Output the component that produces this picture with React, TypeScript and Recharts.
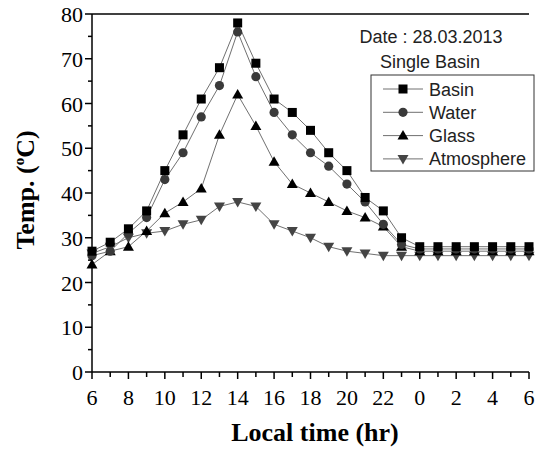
import { LineChart, Line, XAxis, YAxis, ReferenceLine } from "recharts";

const HOURS = [6, 7, 8, 9, 10, 11, 12, 13, 14, 15, 16, 17, 18, 19, 20, 21, 22, 23, 0, 1, 2, 3, 4, 5, 6];
const BASIN = [27, 29, 32, 36, 45, 53, 61, 68, 78, 69, 61, 58, 54, 49, 45, 39, 36, 30, 28, 28, 28, 28, 28, 28, 28];
const WATER = [26, 27, 31, 34.5, 43, 49, 57, 64, 76, 66, 58, 53, 49, 46, 42, 38, 33, 28.5, 27.5, 27.5, 27.5, 27.5, 27.5, 27.5, 27.5];
const GLASS = [24, 27, 28, 31.5, 35.5, 38, 41, 53, 62, 55, 47, 42, 40, 38, 36, 34.5, 32.5, 28, 27, 27, 27, 27, 27, 27, 27];
const ATMOS = [26.5, 28, 30, 31, 31.5, 33, 34, 37, 38, 37, 33, 31.5, 30, 28, 27, 26.5, 26, 26, 26, 26, 26, 26, 26, 26, 26];
const Y_TICKS = [0, 5, 10, 15, 20, 25, 30, 35, 40, 45, 50, 55, 60, 65, 70, 75, 80];

const data = HOURS.map((h, i) => ({
  t: i,
  hour: h,
  basin: BASIN[i],
  water: WATER[i],
  glass: GLASS[i],
  atmos: ATMOS[i],
}));

const SERIF = "'Liberation Serif', 'Times New Roman', serif";
const SANS = "'Liberation Sans', Arial, sans-serif";
const LINE = "#707070";

const Square = ({ cx, cy }: any) => (
  <rect x={cx - 4.5} y={cy - 4.5} width={9} height={9} fill="#000" />
);
const Circle = ({ cx, cy }: any) => <circle cx={cx} cy={cy} r={4.6} fill="#3a3a3a" />;
const TriUp = ({ cx, cy }: any) => (
  <path d={`M${cx},${cy - 5.5} L${cx + 5.5},${cy + 4} L${cx - 5.5},${cy + 4} Z`} fill="#000" />
);
const TriDown = ({ cx, cy }: any) => (
  <path d={`M${cx},${cy + 5.5} L${cx + 5.5},${cy - 4} L${cx - 5.5},${cy - 4} Z`} fill="#444" />
);

const XTick = ({ x, y, payload }: any) => {
  const major = payload.value % 2 === 0;
  return (
    <g>
      <line x1={x} y1={y} x2={x} y2={y + (major ? 7 : 5)} stroke="#000" strokeWidth={1.5} />
      {major && (
        <text x={x} y={y + 33} textAnchor="middle" fontFamily={SERIF} fontSize={22} fill="#000">
          {HOURS[payload.value]}
        </text>
      )}
    </g>
  );
};

const YTick = ({ x, y, payload }: any) => {
  const major = payload.value % 10 === 0;
  return (
    <g>
      <line x1={x} y1={y} x2={x - (major ? 7 : 4)} y2={y} stroke="#000" strokeWidth={1.5} />
      {major && (
        <text x={x - 9} y={y + 8} textAnchor="end" fontFamily={SERIF} fontSize={22} fill="#000">
          {payload.value}
        </text>
      )}
    </g>
  );
};

const LEGEND = [
  { name: "Basin", Shape: Square },
  { name: "Water", Shape: Circle },
  { name: "Glass", Shape: TriUp },
  { name: "Atmosphere", Shape: TriDown },
];

export default function App() {
  return (
    <div style={{ position: "absolute", left: 0, top: 0, width: 539, height: 449, background: "#fff" }}>
      <LineChart width={539} height={449} data={data} margin={{ top: 14, right: 10, left: 30, bottom: 27 }}>
        <XAxis
          dataKey="t"
          type="number"
          domain={[0, 24]}
          ticks={HOURS.map((_, i) => i)}
          interval={0}
          height={50}
          tickSize={0}
          tickMargin={0}
          tickLine={false}
          tick={<XTick />}
          axisLine={{ stroke: "#000", strokeWidth: 1.5 }}
          label={{
            content: () => (
              <text x={315} y={441} textAnchor="middle" fontFamily={SERIF} fontWeight="bold" fontSize={26} fill="#000">
                Local time (hr)
              </text>
            ),
          }}
        />
        <YAxis
          type="number"
          domain={[0, 80]}
          ticks={Y_TICKS}
          interval={0}
          width={62}
          tickSize={0}
          tickMargin={0}
          tickLine={false}
          tick={<YTick />}
          axisLine={{ stroke: "#000", strokeWidth: 1.5 }}
          label={{
            content: () => (
              <text
                transform="translate(34,190) rotate(-90)"
                x={0}
                y={0}
                textAnchor="middle"
                fontFamily={SERIF}
                fontWeight="bold"
                fontSize={26}
                fill="#000"
              >
                Temp. (<tspan fontSize={15} dy={-10}>o</tspan>
                <tspan dy={10}>C)</tspan>
              </text>
            ),
          }}
        />
        <ReferenceLine y={80} stroke="#000" strokeWidth={1.5} />
        <Line dataKey="atmos" stroke={LINE} strokeWidth={1} dot={<TriDown />} isAnimationActive={false} />
        <Line dataKey="glass" stroke={LINE} strokeWidth={1} dot={<TriUp />} isAnimationActive={false} />
        <Line dataKey="water" stroke={LINE} strokeWidth={1} dot={<Circle />} isAnimationActive={false} />
        <Line dataKey="basin" stroke={LINE} strokeWidth={1} dot={<Square />} isAnimationActive={false} />
      </LineChart>
      <svg
        width={539}
        height={449}
        style={{ position: "absolute", left: 0, top: 0, pointerEvents: "none" }}
      >
        <text x={431} y={43} textAnchor="middle" fontFamily={SANS} fontSize={18} fill="#222">
          Date : 28.03.2013
        </text>
        <text x={430} y={68} textAnchor="middle" fontFamily={SANS} fontSize={18} fill="#222">
          Single Basin
        </text>
        <rect x={371} y={75} width={163} height={96} fill="#fff" stroke="#333" strokeWidth={1} />
        {LEGEND.map(({ name, Shape }, i) => {
          const cy = 89 + i * 23.3;
          return (
            <g key={name}>
              <line x1={383} x2={423} y1={cy} y2={cy} stroke={LINE} strokeWidth={1} />
              <Shape cx={403} cy={cy} />
              <text x={429} y={cy + 6.5} fontFamily={SANS} fontSize={18} fill="#222">
                {name}
              </text>
            </g>
          );
        })}
      </svg>
    </div>
  );
}
